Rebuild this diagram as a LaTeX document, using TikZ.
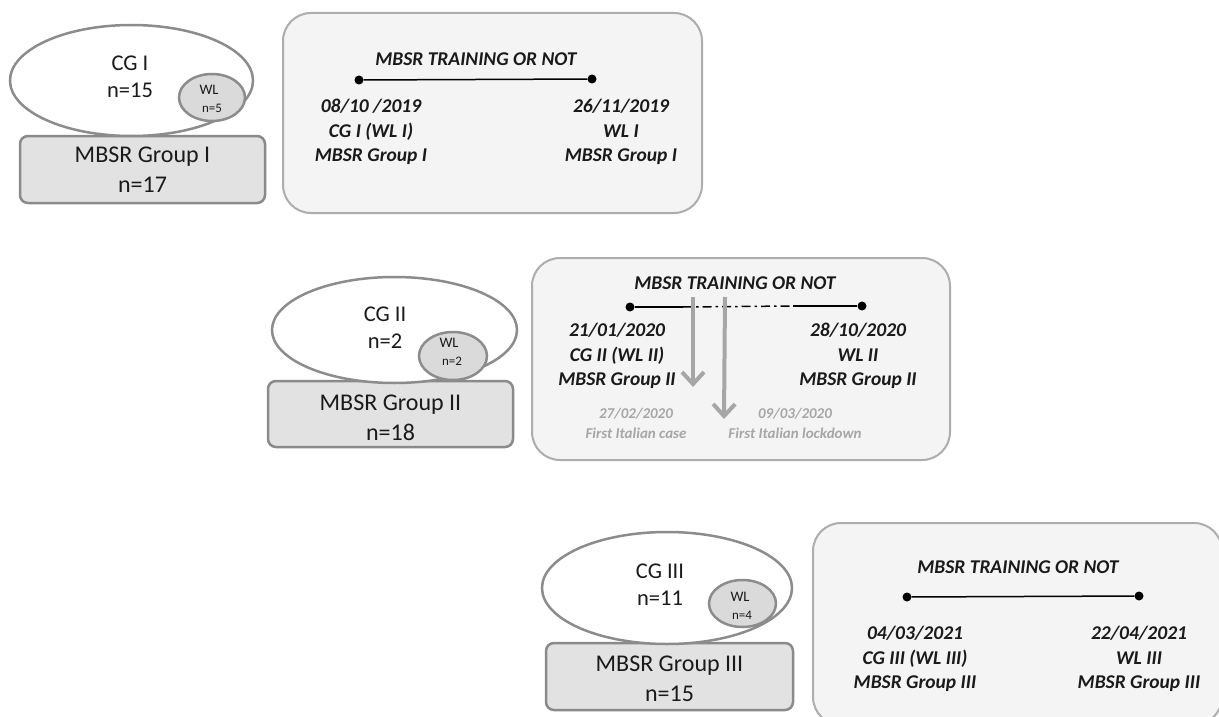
\documentclass[tikz,border=0pt]{standalone}
\usepackage{fontspec}
\setmainfont{Carlito}
\usetikzlibrary{shapes.geometric,arrows.meta}
\definecolor{ellline}{HTML}{8C8C8C}
\definecolor{wlfill}{HTML}{DADADA}
\definecolor{grpfill}{HTML}{E2E2E2}
\definecolor{grpline}{HTML}{8A8A8A}
\definecolor{tlfill}{HTML}{F4F4F4}
\definecolor{tlline}{HTML}{ADADAD}
\definecolor{evgray}{HTML}{A6A6A6}
\definecolor{txt}{HTML}{1A1A1A}
\tikzset{
  ell/.style={ellipse, draw=ellline, line width=2.5pt, fill=white, inner sep=0pt},
  wlell/.style={ellipse, draw=ellline, line width=2.5pt, fill=wlfill, inner sep=0pt},
  grpbox/.style={rectangle, rounded corners=8pt, draw=grpline, line width=2.5pt, fill=grpfill, inner sep=0pt},
  tlbox/.style={rectangle, rounded corners=28pt, draw=tlline, line width=2pt, fill=tlfill, inner sep=0pt},
  elltext/.style={align=center, text=txt, font=\fontsize{22.5}{27}\selectfont, inner sep=0pt},
  wltext/.style={align=center, text=txt, inner sep=0pt},
  grptext/.style={align=center, text=txt, font=\fontsize{24}{30}\selectfont, inner sep=0pt},
  tltitle/.style={text=txt, font=\fontsize{19.5}{24}\selectfont\bfseries\itshape, inner sep=0pt},
  tltext/.style={align=center, text=txt, font=\fontsize{19.5}{24.5}\selectfont\bfseries\itshape, inner sep=0pt},
  evtext/.style={align=center, text=evgray, font=\fontsize{15}{20}\selectfont\bfseries\itshape, inner sep=0pt},
  dot/.style={circle, fill=black, minimum size=9pt, inner sep=0pt},
  tlline/.style={line width=1.5pt, black},
  evarrow/.style={line width=4pt, evgray, -{Straight Barb[length=12pt,width=22pt]}}
}
\begin{document}
\begin{tikzpicture}[x=1pt,y=-1pt]
\useasboundingbox[fill=white] (0,0) rectangle (1219,717);

% ---------- Row 1 ----------
\node[tlbox, minimum width=419pt, minimum height=200pt] (t1) at (492.5,113) {};
\node[grpbox, minimum width=245pt, minimum height=67pt] (g1) at (142.5,169.5) {};
\node[grptext] (g1t) at (142.5,170) {MBSR Group I\\n=17};
\node[ell, minimum width=243pt, minimum height=111pt] (e1) at (131.5,80.5) {};
\node[wlell, minimum width=66pt, minimum height=47pt] (w1) at (212,97.5) {};
\node[elltext] (e1t) at (130,77) {CG I\\n=15};
\node[wltext, font=\fontsize{14.5}{14}\selectfont] (w1a) at (209,90) {WL};
\node[wltext, font=\fontsize{13}{12}\selectfont] (w1b) at (212,108) {n=5};

\node[tltitle] (t1h) at (476,59) {MBSR TRAINING OR NOT};
\node[dot] (d1a) at (359,80) {};
\node[dot] (d1b) at (592,79) {};
\draw[tlline] (d1a) -- (d1b);
\node[tltext] (t1l) at (371,132) {08/10 /2019\\CG I (WL I)\\MBSR Group I};
\node[tltext] (t1r) at (621,132) {26/11/2019\\WL I\\MBSR Group I};

% ---------- Row 2 ----------
\node[tlbox, minimum width=418pt, minimum height=202pt] (t2) at (741,359) {};
\node[grpbox, minimum width=245pt, minimum height=66pt] (g2) at (390.5,414) {};
\node[grptext] (g2t) at (390.5,418) {MBSR Group II\\n=18};
\node[ell, minimum width=245pt, minimum height=106pt] (e2) at (394.5,330) {};
\node[wlell, minimum width=68pt, minimum height=48pt] (w2) at (453,356) {};
\node[elltext] (e2t) at (385,328) {CG II\\n=2};
\node[wltext, font=\fontsize{14.5}{14}\selectfont] (w2a) at (449,343) {WL};
\node[wltext, font=\fontsize{13}{12}\selectfont] (w2b) at (452,361) {n=2};

\node[tltitle] (t2h) at (735,283) {MBSR TRAINING OR NOT};
\node[dot] (d2a) at (630,307) {};
\node[dot] (d2b) at (862,306) {};
\coordinate (m2a) at (683,307);
\coordinate (m2b) at (793,306);
\draw[tlline] (d2a) -- (m2a);
\draw[tlline, dash pattern=on 9pt off 4pt on 2.5pt off 4pt] (m2a) -- (m2b);
\draw[tlline] (m2b) -- (d2b);
\node[tltext] (t2l) at (617,356) {21/01/2020\\CG II (WL II)\\MBSR Group II};
\node[tltext] (t2r) at (858,356) {28/10/2020\\WL II\\MBSR Group II};
\coordinate (a1s) at (693,297);
\coordinate (a1e) at (693,387);
\coordinate (a2s) at (725,297);
\coordinate (a2e) at (724,419);
\draw[evarrow] (a1s) -- (a1e);
\draw[evarrow] (a2s) -- (a2e);
\node[evtext] (ev1) at (636,423) {27/02/2020\\First Italian case};
\node[evtext] (ev2) at (795,423) {09/03/2020\\First Italian lockdown};

% ---------- Row 3 ----------
\node[tlbox, minimum width=409pt, minimum height=202pt] (t3) at (1017.5,624) {};
\node[grpbox, minimum width=247pt, minimum height=67pt] (g3) at (669.5,676.5) {};
\node[grptext] (g3t) at (669.5,679) {MBSR Group III\\n=15};
\node[ell, minimum width=250pt, minimum height=112pt] (e3) at (667,588) {};
\node[wlell, minimum width=67pt, minimum height=47pt] (w3) at (742.5,603.5) {};
\node[elltext] (e3t) at (660,585) {CG III\\n=11};
\node[wltext, font=\fontsize{14.5}{14}\selectfont] (w3a) at (740,597) {WL};
\node[wltext, font=\fontsize{13}{12}\selectfont] (w3b) at (742,615) {n=4};

\node[tltitle] (t3h) at (1018,567) {MBSR TRAINING OR NOT};
\node[dot] (d3a) at (907,597) {};
\node[dot] (d3b) at (1139,596) {};
\draw[tlline] (d3a) -- (d3b);
\node[tltext] (t3l) at (915,659) {04/03/2021\\CG III (WL III)\\MBSR Group III};
\node[tltext] (t3r) at (1139,659) {22/04/2021\\WL III\\MBSR Group III};
\end{tikzpicture}
\end{document}
